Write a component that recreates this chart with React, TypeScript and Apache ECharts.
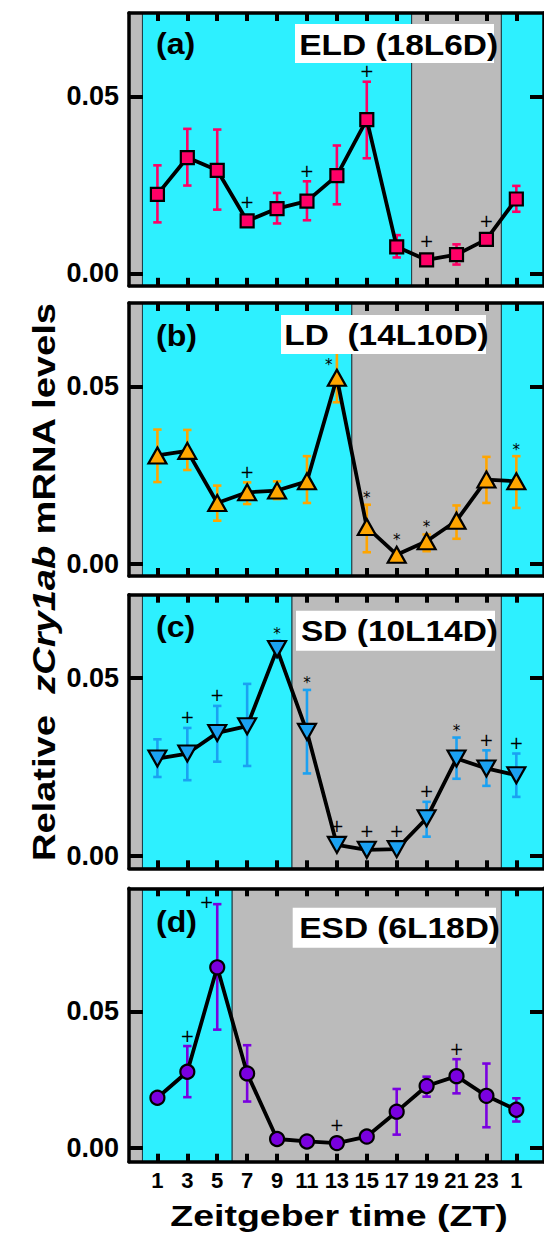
import React, { useEffect, useRef } from "react";
import * as echarts from "echarts";

// ---------- data ----------
const ZT = [1, 3, 5, 7, 9, 11, 13, 15, 17, 19, 21, 23, 25];
const X_TICKS = [1, 3, 5, 7, 9, 11, 13, 15, 17, 19, 21, 23, 25];
const Y_TICKS = [0, 0.05];

const ELD_MEAN = [0.0223, 0.0327, 0.0291, 0.0148, 0.0183, 0.0204, 0.0276, 0.0434, 0.0075, 0.0038, 0.0053, 0.0096, 0.021];
const ELD_HI = [0.0305, 0.0408, 0.0406, 0.0162, 0.0227, 0.026, 0.0361, 0.0541, 0.0108, 0.0046, 0.0082, 0.0104, 0.0247];
const ELD_LO = [0.0144, 0.0248, 0.018, 0.0134, 0.0141, 0.015, 0.0195, 0.0325, 0.0045, 0.003, 0.0025, 0.0088, 0.0174];
const ELD_MARK = ["", "", "", "+", "", "+", "", "+", "", "+", "", "+", ""];

const LD_MEAN = [0.0305, 0.0318, 0.0171, 0.0201, 0.0206, 0.0232, 0.0524, 0.0103, 0.0025, 0.0063, 0.0121, 0.0237, 0.0232];
const LD_HI = [0.0378, 0.0377, 0.022, 0.0229, 0.0232, 0.0303, 0.0601, 0.0166, 0.003, 0.0082, 0.0164, 0.0301, 0.0303];
const LD_LO = [0.023, 0.0264, 0.0121, 0.0168, 0.0182, 0.0171, 0.0455, 0.0032, 0.002, 0.0035, 0.007, 0.0171, 0.0157];
const LD_MARK = ["", "", "", "+", "", "", "*", "*", "*", "*", "", "", "*"];

const SD_MEAN = [0.0274, 0.0288, 0.0346, 0.0365, 0.0582, 0.0349, 0.0031, 0.0017, 0.0019, 0.0106, 0.0274, 0.0246, 0.0227];
const SD_HI = [0.0328, 0.036, 0.0422, 0.0484, 0.0606, 0.0467, 0.0036, 0.0022, 0.0024, 0.0152, 0.0333, 0.0297, 0.0288];
const SD_LO = [0.0222, 0.0213, 0.0265, 0.0253, 0.0558, 0.0232, 0.0026, 0.0012, 0.0014, 0.0054, 0.0217, 0.0197, 0.0166];
const SD_MARK = ["", "+", "+", "", "*", "*", "+", "+", "+", "+", "*", "+", "+"];

const ESD_MEAN = [0.0184, 0.0279, 0.0661, 0.0273, 0.0033, 0.0024, 0.0018, 0.0042, 0.0133, 0.0227, 0.0263, 0.0191, 0.014];
const ESD_HI = [0.019, 0.0373, 0.0892, 0.0376, 0.0036, 0.0027, 0.0021, 0.0045, 0.0216, 0.0261, 0.0325, 0.0309, 0.0182];
const ESD_LO = [0.0178, 0.0186, 0.0433, 0.017, 0.003, 0.0021, 0.0015, 0.0039, 0.0049, 0.0188, 0.02, 0.0076, 0.0097];
const ESD_MARK = ["", "+", "+", "", "", "", "+", "", "", "", "+", "", ""];

const PANEL_LABELS = ["(a)", "(b)", "(c)", "(d)"];
const PANEL_TITLES = ["ELD (18L6D)", "LD  (14L10D)", "SD (10L14D)", "ESD (6L18D)"];
const LIGHT_HOURS = [18, 14, 10, 6];
const Y_MIN = [-0.0035, -0.0035, -0.0035, -0.005];
const Y_MAX = [0.0735, 0.0735, 0.0735, 0.095];
const X_MIN = -0.9;
const X_MAX = 26.85;

// ---------- styles / layout ----------
const CYAN = "#2DF0FF";
const GRAY = "#BBBBBB";
const COLORS = ["#FF0066", "#FFA500", "#1BA1F2", "#7A00E0"];
const SYMBOLS = ["rect", "triangle", "triangle", "circle"];
const SYMBOL_ROT = [0, 0, 180, 0];
const SYMBOL_SIZE: any[] = [13, [18, 16], [18, 16], 14];
const GRID_LEFT = 129;
const GRID_WIDTH = 418;
const GRID_TOP = [13, 303, 594.7, 888.3];
const GRID_HEIGHT = [272.8, 273, 273.6, 273.4];
const TITLE_BOX = [
  { x: 295, y: 24, w: 199, h: 39, tx: 299.3, ty: 44.2 },
  { x: 281, y: 315, w: 205, h: 39, tx: 284.3, ty: 334.5 },
  { x: 296, y: 610.7, w: 199, h: 40, tx: 301, ty: 630.8 },
  { x: 292.7, y: 907.7, w: 203.3, h: 40, tx: 299.3, ty: 927.5 },
];
const LABEL_POS = [
  { x: 156, y: 44 },
  { x: 156, y: 336 },
  { x: 156, y: 627 },
  { x: 156, y: 922 },
];
const FONT = "'Liberation Sans', Arial, sans-serif";

const PANELS = [
  { mean: ELD_MEAN, hi: ELD_HI, lo: ELD_LO, mark: ELD_MARK },
  { mean: LD_MEAN, hi: LD_HI, lo: LD_LO, mark: LD_MARK },
  { mean: SD_MEAN, hi: SD_HI, lo: SD_LO, mark: SD_MARK },
  { mean: ESD_MEAN, hi: ESD_HI, lo: ESD_LO, mark: ESD_MARK },
];

function buildOption() {
  const grid: any[] = [];
  const xAxis: any[] = [];
  const yAxis: any[] = [];
  const series: any[] = [];
  const axisLine = { show: true, onZero: false, lineStyle: { color: "#000", width: 3.5 } };

  PANELS.forEach((p, i) => {
    grid.push({ left: GRID_LEFT, width: GRID_WIDTH, top: GRID_TOP[i], height: GRID_HEIGHT[i] });
    const xBase = {
      type: "value",
      gridIndex: i,
      min: X_MIN,
      max: X_MAX,
      z: 10,
      axisLine,
      splitLine: { show: false },
      axisTick: { show: true, inside: true, length: 8, customValues: X_TICKS, lineStyle: { color: "#000", width: 4 } },
    };
    xAxis.push({
      ...xBase,
      position: "bottom",
      axisLabel: {
        show: i === 3,
        customValues: X_TICKS,
        margin: 8,
        fontSize: 22,
        fontWeight: "bold",
        fontFamily: FONT,
        color: "#000",
        formatter: (v: number) => String(v > 24 ? v - 24 : v),
      },
    });
    xAxis.push({ ...xBase, position: "top", axisLabel: { show: false } });
    const yBase = {
      type: "value",
      gridIndex: i,
      min: Y_MIN[i],
      max: Y_MAX[i],
      z: 10,
      axisLine,
      splitLine: { show: false },
      axisTick: { show: true, inside: true, length: 14, customValues: Y_TICKS, lineStyle: { color: "#000", width: 4 } },
    };
    yAxis.push({
      ...yBase,
      position: "left",
      axisLabel: {
        show: true,
        customValues: Y_TICKS,
        margin: 10,
        fontSize: 27,
        fontWeight: "bold",
        fontFamily: FONT,
        color: "#000",
        formatter: (v: number) => v.toFixed(2),
      },
    });
    yAxis.push({ ...yBase, position: "right", axisLabel: { show: false } });

    const light = LIGHT_HOURS[i];
    const bands = [
      [-6, 0, 1],
      [0, light, 0],
      [light, 24, 1],
      [24, 24 + light, 0],
    ];
    const yMin = Y_MIN[i];
    const yMax = Y_MAX[i];
    series.push({
      type: "custom",
      xAxisIndex: i * 2,
      yAxisIndex: i * 2,
      z: 1,
      silent: true,
      data: bands,
      renderItem: (params: any, api: any) => {
        const x0 = Math.max(api.value(0), X_MIN);
        const x1 = Math.min(api.value(1), X_MAX);
        if (x1 <= x0) return null;
        const a = api.coord([x0, yMax]);
        const b = api.coord([x1, yMin]);
        return {
          type: "rect",
          shape: { x: a[0], y: a[1], width: b[0] - a[0], height: b[1] - a[1] },
          style: { fill: api.value(2) === 1 ? GRAY : CYAN, stroke: "#1d3c44", lineWidth: 1 },
        };
      },
    });

    const box = TITLE_BOX[i];
    const color = COLORS[i];
    series.push({
      type: "custom",
      xAxisIndex: i * 2,
      yAxisIndex: i * 2,
      z: 3,
      silent: true,
      data: ZT.map((x, k) => [x, p.lo[k], p.hi[k], p.mean[k]]),
      renderItem: (params: any, api: any) => {
        const x = api.value(0);
        const pHi = api.coord([x, api.value(2)]);
        const pLo = api.coord([x, api.value(1)]);
        const pM = api.coord([x, api.value(3)]);
        const cw = 4.2;
        const st = { stroke: color, lineWidth: 2.6 };
        const children: any[] = [
          { type: "line", shape: { x1: pHi[0], y1: pHi[1], x2: pLo[0], y2: pLo[1] }, style: st },
          { type: "line", shape: { x1: pHi[0] - cw, y1: pHi[1], x2: pHi[0] + cw, y2: pHi[1] }, style: st },
          { type: "line", shape: { x1: pLo[0] - cw, y1: pLo[1], x2: pLo[0] + cw, y2: pLo[1] }, style: st },
        ];
        const mark = p.mark[params.dataIndex];
        if (mark) {
          let tx = pHi[0];
          let ty = Math.min(pHi[1], pM[1] - 8) - 10.5;
          const top = GRID_TOP[i];
          const hitsBox =
            tx + 6 > box.x && tx - 6 < box.x + box.w && ty - 5 < box.y + box.h && ty + 5 > box.y;
          if (ty < top + 12) {
            tx -= 10.5;
            ty = pHi[1] - 2;
          } else if (hitsBox) {
            tx -= 8;
            ty = pHi[1] + 10.5;
          }
          const isStar = mark === "*";
          children.push({
            type: "text",
            x: tx,
            y: isStar ? ty + 4 : ty,
            style: {
              text: mark,
              fill: "#000",
              fontSize: isStar ? 15 : 17,
              fontFamily: "'DejaVu Sans', sans-serif",
              align: "center",
              verticalAlign: "middle",
            },
          });
        }
        return { type: "group", children };
      },
    });

    series.push({
      type: "line",
      xAxisIndex: i * 2,
      yAxisIndex: i * 2,
      z: 4,
      data: ZT.map((x, k) => [x, p.mean[k]]),
      symbol: SYMBOLS[i],
      symbolRotate: SYMBOL_ROT[i],
      symbolSize: SYMBOL_SIZE[i],
      showAllSymbol: true,
      lineStyle: { color: "#000", width: 3.8 },
      itemStyle: { color, borderColor: "#000", borderWidth: 2.2 },
    });
  });

  const graphic: any[] = [];
  TITLE_BOX.forEach((b, i) => {
    graphic.push({ type: "rect", z: 20, shape: { x: b.x, y: b.y, width: b.w, height: b.h }, style: { fill: "#fff" } });
    graphic.push({
      type: "text",
      z: 21,
      x: b.tx,
      y: b.ty,
      scaleX: 1.115,
      style: { text: PANEL_TITLES[i], fontSize: 30, fontWeight: "bold", fontFamily: FONT, fill: "#000", align: "left", verticalAlign: "middle" },
    });
    graphic.push({
      type: "text",
      z: 21,
      x: LABEL_POS[i].x,
      y: LABEL_POS[i].y,
      scaleX: 1.07,
      style: { text: PANEL_LABELS[i], fontSize: 30, fontWeight: "bold", fontFamily: FONT, fill: "#000", align: "left", verticalAlign: "middle" },
    });
  });
  graphic.push({
    type: "text",
    z: 21,
    x: 339,
    y: 1215.5,
    scaleX: 1.25,
    style: { text: "Zeitgeber time (ZT)", fontSize: 30, fontWeight: "bold", fontFamily: FONT, fill: "#000", align: "center", verticalAlign: "middle" },
  });
  graphic.push({
    type: "text",
    z: 21,
    x: 43.5,
    y: 581.7,
    rotation: Math.PI / 2,
    scaleX: 1.19,
    style: {
      text: "{a|Relative  }{b|zCry1ab}{a| mRNA levels}",
      align: "center",
      verticalAlign: "middle",
      rich: {
        a: { fontSize: 32, fontWeight: "bold", fontFamily: FONT, fill: "#000" },
        b: { fontSize: 32, fontWeight: "bold", fontStyle: "italic", fontFamily: FONT, fill: "#000" },
      },
    },
  });

  return { animation: false, backgroundColor: "#fff", grid, xAxis, yAxis, series, graphic };
}

export default function App() {
  const ref = useRef<HTMLDivElement>(null);
  useEffect(() => {
    if (!ref.current) return;
    const chart = echarts.init(ref.current, null, { renderer: "svg" });
    chart.setOption(buildOption() as any);
    return () => chart.dispose();
  }, []);
  return <div ref={ref} style={{ position: "absolute", left: 0, top: 0, width: 544, height: 1236 }} />;
}
